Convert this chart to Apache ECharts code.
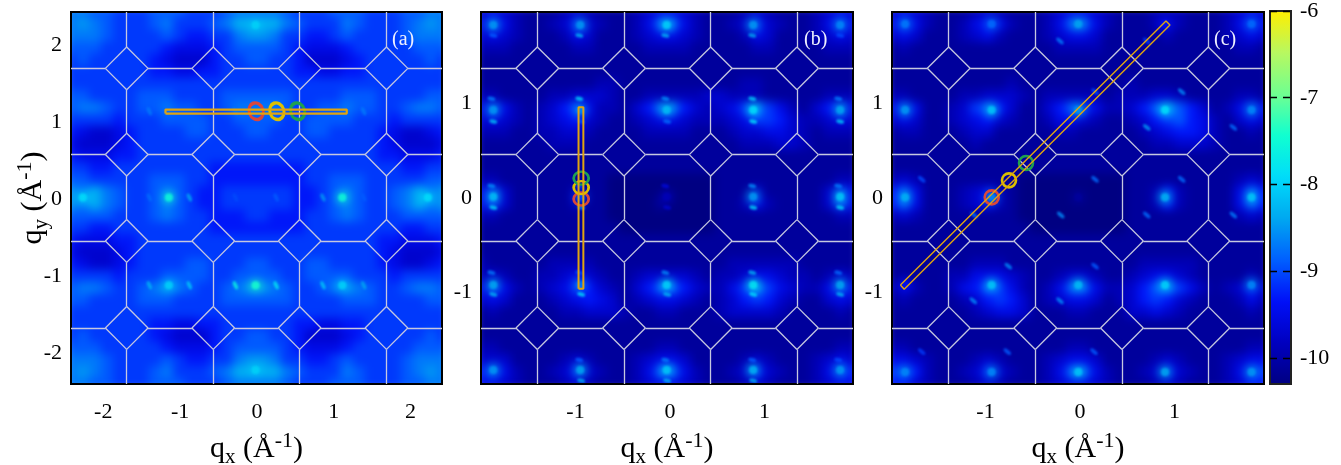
<!DOCTYPE html>
<html>
<head>
<meta charset="utf-8">
<style>
html,body{margin:0;padding:0;background:#fff}
#c{width:1341px;height:465px}
canvas[data-zr-dom-id="zr_0"]{filter:blur(5px);clip-path:path("M71 12H442V384H71Z M481 12H853V384H481Z M892 12H1264V384H892Z")}
canvas[data-zr-dom-id="zr_1"]{filter:blur(1.2px);clip-path:path("M71 12H442V384H71Z M481 12H853V384H481Z M892 12H1264V384H892Z")}
</style>
<script src="https://cdn.jsdelivr.net/npm/echarts@6/dist/echarts.min.js"></script>
</head>
<body>
<div id="c"></div>
<script>
// intensity rows (top to bottom), one hex digit per cell: log10 I = -10.3 + 0.2 * digit
var heatA = [
"88776667776667888876667776667788","89876667866678aaaa87666876667898","88876666765566899866556766667888","77766666544456777765444566666777",
"67666665433356677665333456666676","66666665544556666665544556666666","66666666666666666666666666666666","77666677766667777776666777666677",
"78876677877667888876677877667887","66665666777766777766777766656666","54334566667766677666776666543345","43334566666666666666666666543334",
"54445566666666666666666666554445","66556666666655555555666666665566","77666667776655555555667776666677","98a87667876556666665567876678a89",
"98a87667876556666665567876678a89","77776667876655566555667876667777","66556666666655555555666666665566","54445566666666666666666666554445",
"43334566666666666666666666543334","54334566667766677666776666543345","66665666777766777766777766656666","78876678987667899876678987667887",
"77666677766667777776666777666677","66666666666666666666666666666666","66666665544556666665544556666666","67666665433356677665333456666676",
"77766666544456777765444566666777","88876666765566899866556766667888","89876667866678aaaa87666876667898","88776667776667888876667776667788"];
var heatB = [
"34321112321112344321112321112343","46421123532112477421123532112464","34321112431112344321112431112343","22211111221111222211111221111222",
"11111111111111111111111111111111","11111111111111111111111111111111","11111111112211111111112211111111","22111122333211222223322211111222",
"46421235742213588532346864213574","34321234532112344322234665322343","22211223321111222211123344321222","11111122211111111111112223321111",
"11111111111111111111111111111111","11111111111111111111111111111111","22111111111000000000111111111122","46311111211000000000111311111364",
"46311111211000010000112421111374","22111111111000000000111111111122","11111111111100000000111111111111","11111111111111111111111111111111",
"11111111111111111111111111111111","21111122221111111111122222211111","23211223432112333321223443221232","46421234653213577532246964322464",
"34311123454312344321235653211343","12111112233321122111233332111121","11111111111111111111111111111111","11111111111111111111111111111111",
"22111111111111122111111111111122","33311112321112344311112321112343","56421123532112477421123532112465","44321112321112344321112321112344"];
var heatC = [
"34321112321112344321112221112343","46421124542112477421112321112464","34311123421112344311111211112343","12111111111111222211111111111221",
"11111111111111111111111111111111","11111111111111111111111111111111","11111111112111111111211111111111","22111122333212222212223321111221",
"46411236753113576422357975312464","34311234532112443211235675421343","12211123311111221111123455421121","11111112111111111111112233321111",
"11111111111111111111111111111111","11111111111111111111111111111111","23211111111000000000111111111232","57411123421000000000112521111475",
"57411123421000000000112521111475","23211111111000000000111111111232","11111111111100000000111111111111","11111111111111111111111111111111",
"11111111111111111111111111111111","11111112221111111111122222111111","11111224443211233211234432111121","23211245764212477422357864212353",
"12111123565312344312356532111242","11111112344311122111334321111121","11111111111111111111111111111111","11111111111111111111111111111111",
"22111111111111122111111111111122","44321112321112344311112321112344","67521123532112477421123532112476","55321112321112344321112321112355"];

var cellCount = 32;

// bright cores: [qx, qy, log10 I]
var coresA = [[-1.146,0.02,-7.5],[1.112,0.02,-7.5],[-0.017,-1.12,-7.4],[-1.146,-1.12,-8.0],[1.112,-1.12,-8.0],[-2.266,0.02,-7.9],[2.227,0.02,-7.9],[-0.017,2.26,-8.0],[-0.017,-2.22,-8.0]];
var coresB = [[-1.87,1.83,-8.5],[-0.95,1.83,-8.5],[-0.035,1.83,-8.0],[0.88,1.83,-8.5],[1.80,1.83,-8.6],
[-1.87,0.93,-8.5],[-0.95,0.93,-8.6],[-0.035,0.93,-8.2],[0.88,0.93,-7.9],[1.80,0.93,-8.4],
[-1.87,0.014,-8.2],[-0.95,0.014,-9],[-0.035,0.014,-9.9],[0.88,0.014,-8.5],[1.80,0.014,-8.1],
[-1.87,-0.92,-8.4],[-0.95,-0.92,-8.7],[-0.035,-0.92,-8.0],[0.88,-0.92,-7.8],[1.80,-0.92,-8.4],
[-1.87,-1.82,-8.5],[-0.95,-1.82,-8.4],[-0.035,-1.82,-8.1],[0.88,-1.82,-8.3],[1.80,-1.82,-8.5]];
var coresC = [[-1.85,1.84,-8.7],[-0.935,1.84,-8.8],[-0.018,1.84,-8.4],[0.90,1.84,-9.4],[1.815,1.84,-8.8],
[-1.85,0.93,-8.5],[-0.935,0.93,-8.1],[-0.018,0.93,-8.5],[0.90,0.93,-7.9],[1.815,0.93,-8.6],
[-1.85,0.007,-8.3],[-0.935,0.007,-8.6],[-0.018,0.007,-10.1],[0.90,0.007,-8.3],[1.815,0.007,-8.1],
[-1.85,-0.92,-9.4],[-0.935,-0.92,-8.1],[-0.018,-0.92,-8.2],[0.90,-0.92,-8.0],[1.815,-0.92,-8.6],
[-1.85,-1.84,-8.6],[-0.935,-1.84,-8.6],[-0.018,-1.84,-8.1],[0.90,-1.84,-8.4],[1.815,-1.84,-8.5]];

// small satellite spots: [qx, qy, log10 I]
var spotsA = [[-1.40,1.14,-8.7],[1.39,1.14,-8.7],[-0.28,1.14,-8.7],[-1.40,0.02,-8.8],[-0.88,0.02,-8.4],[-0.28,0.02,-9],[0.25,0.02,-8.9],[0.86,0.02,-8.5],[1.39,0.02,-8.9],
[-1.40,-1.12,-8.3],[-0.88,-1.12,-8.1],[-0.28,-1.12,-7.6],[0.25,-1.12,-7.8],[0.86,-1.12,-8.1],[1.39,-1.12,-8.4]];
var spotsB = [[-1.87,1.72,-8.9],[-0.96,1.72,-8.3],[-0.05,1.72,-8.3],[0.87,1.72,-8.4],[1.80,1.72,-9],
[-1.89,1.05,-8.7],[-0.96,1.05,-8.0],[-0.05,1.05,-8.6],[0.87,1.05,-8.1],[1.78,1.05,-8.7],
[-1.87,0.81,-8.2],[-0.94,0.81,-9],[-0.03,0.81,-8.8],[0.88,0.81,-7.9],[1.80,0.81,-8.1],
[-1.89,0.127,-8.6],[-0.96,0.127,-9],[-0.05,0.127,-9.6],[0.87,0.127,-8.6],[1.78,0.127,-8.7],
[-1.87,-0.10,-8.0],[-0.94,-0.10,-8.6],[-0.03,-0.10,-9.7],[0.88,-0.10,-8.0],[1.80,-0.10,-8.0],
[-1.89,-0.79,-8.7],[-0.96,-0.79,-9],[-0.05,-0.79,-8.6],[0.87,-0.79,-8.3],[1.78,-0.79,-8.8],
[-1.87,-1.02,-8.3],[-0.94,-1.02,-7.9],[-0.03,-1.02,-8.3],[0.88,-1.02,-7.9],[1.80,-1.02,-8.3],
[-0.96,-1.714,-8.9],[-0.05,-1.714,-8.7],[0.87,-1.714,-8.9],[1.78,-1.714,-9],[-0.94,-1.933,-8.3],[-0.03,-1.933,-8.3],[0.88,-1.933,-8.3]];
var spotsC = [[-0.212,1.661,-8.7],[0.706,1.661,-9.1],[0.159,1.125,-9],[1.076,1.125,-8.6],[0.706,0.748,-8.5],[1.622,0.748,-8.8],
[-1.675,0.198,-9],[0.159,0.198,-8.8],[1.076,0.198,-8.8],[-1.122,-0.18,-8.8],[-0.204,-0.18,-8.6],[0.706,-0.18,-8.8],[1.622,-0.18,-8.7],
[-0.759,-0.72,-8.6],[0.159,-0.72,-8.9],[-1.129,-1.087,-8.6],[-0.212,-1.087,-8.6],[-1.675,-1.626,-9.1],[-0.769,-1.626,-8.9],[0.148,-1.626,-8.9]];

// Brillouin-zone corner lattice
var bzXA = [-1.695,-0.568,0.557,1.687], bzYA = [1.697,0.577,-0.545,-1.675], bzDA = 0.278;
var bzXB = [-1.404,-0.487,0.43,1.343],  bzYB = [1.372,0.459,-0.455,-1.376], bzDB = 0.2265;
var bzXC = [-1.389,-0.473,0.444,1.358], bzYC = [1.372,0.459,-0.455,-1.376], bzDC = 0.2265;

// scan windows
var rectA = [[-1.19,1.11],[1.17,1.11],[1.17,1.162],[-1.19,1.162],[-1.19,1.11]];
var rectB = [[-0.968,-0.96],[-0.917,-0.96],[-0.917,0.96],[-0.968,0.96],[-0.968,-0.96]];
var rectC = [[-1.90,-0.92],[-1.86,-0.966],[0.952,1.83],[0.91,1.873],[-1.90,-0.92]];

// rings: red, yellow, green
var ringsA = [[-0.01,1.14],[0.26,1.14],[0.53,1.14]];
var ringsB = [[-0.94,-0.01],[-0.94,0.11],[-0.94,0.21]];
var ringsC = [[-0.934,0.007],[-0.751,0.187],[-0.571,0.37]];
var ringColors = ['#d8483c','#dcc000','#1fa050'];

var ticksA = [-2,-1,0,1,2], ticksBC = [-1,0,1], barTicks = [-10,-9,-8,-7,-6];
var panelTags = ['(a)','(b)','(c)'];
var palette = ['#000082','#0000c0','#0010f8','#0060ff','#00a8f0','#00dcfa','#10ffd0','#70ff90','#b8f860','#ffee00'];

var serif = '"Liberation Serif","Times New Roman",serif';
var panels = [
 {heat:heatA,cores:coresA,spots:spotsA,bzX:bzXA,bzY:bzYA,d:bzDA,rect:rectA,rings:ringsA,ticks:ticksA,left:71,w:371,glow:11,
  xr:[-2.42,2.41],yr:[-2.403,2.429],spotSize:[4,9],spotRot:25,ringSize:[14,17],ringRot:20,rw:2.2,rb:3.2,tag:405},
 {heat:heatB,cores:coresB,spots:spotsB,bzX:bzXB,bzY:bzYB,d:bzDB,rect:rectB,rings:ringsB,ticks:ticksBC,left:481,w:372,glow:13,
  xr:[-2.0,1.936],yr:[-1.968,1.968],spotSize:[8,4],spotRot:-15,ringSize:[15,13],ringRot:0,rw:2,rb:2.6,tag:817},
 {heat:heatC,cores:coresC,spots:spotsC,bzX:bzXC,bzY:bzYC,d:bzDC,rect:rectC,rings:ringsC,ticks:ticksBC,left:892,w:372,glow:13,
  xr:[-1.989,1.947],yr:[-1.968,1.968],spotSize:[9,4],spotRot:-40,ringSize:[14,14],ringRot:0,rw:1.4,rb:2.6,tag:1227}
];

function segs(p){
  var out=[],i,j,xs=p.bzX,ys=p.bzY,d=p.d;
  function add(a,b,c,e){out.push({coords:[[a,b],[c,e]]});}
  ys.forEach(function(y){
    add(p.xr[0],y,xs[0]-d,y);
    for(i=0;i<xs.length-1;i++) add(xs[i]+d,y,xs[i+1]-d,y);
    add(xs[xs.length-1]+d,y,p.xr[1],y);
  });
  xs.forEach(function(x){
    add(x,p.yr[1],x,ys[0]+d);
    for(j=0;j<ys.length-1;j++) add(x,ys[j]-d,x,ys[j+1]+d);
    add(x,ys[ys.length-1]-d,x,p.yr[0]);
  });
  xs.forEach(function(x){ys.forEach(function(y){
    add(x-d,y,x,y+d);add(x,y+d,x+d,y);add(x+d,y,x,y-d);add(x,y-d,x-d,y);
  });});
  return out;
}
function title(main,sub){
  return '{q|'+main+'}{s|'+sub+'}{t| (Å}{u|-1}{t|)}';
}
var titleRich = {
  q:{fontSize:30,fontFamily:serif,color:'#000',lineHeight:38},
  t:{fontSize:30,fontFamily:serif,color:'#000',lineHeight:38},
  s:{fontSize:21,fontFamily:serif,color:'#000',verticalAlign:'bottom',lineHeight:26},
  u:{fontSize:22,fontFamily:serif,color:'#000',verticalAlign:'top',lineHeight:26}
};
var cats=[];for(var k=0;k<cellCount;k++)cats.push(k);

var grids=[],xAxes=[],yAxes=[],series=[],mapped=[],graphics=[];
panels.forEach(function(p){
  grids.push({left:p.left-6,top:6,width:384,height:384,show:false,zlevel:0,outerBoundsMode:'none'});
  xAxes.push({type:'category',data:cats,show:false,gridIndex:grids.length-1,zlevel:0});
  yAxes.push({type:'category',data:cats,inverse:true,show:false,gridIndex:grids.length-1,zlevel:0});
});
panels.forEach(function(p,n){
  var g=grids.length;
  grids.push({left:p.left,top:12,width:p.w,height:372,show:true,backgroundColor:'transparent',borderColor:'#000',borderWidth:2,zlevel:2,outerBoundsMode:'none'});
  var lab={fontFamily:serif,fontSize:22,color:'#000',customValues:p.ticks};
  xAxes.push({type:'value',gridIndex:g,min:p.xr[0],max:p.xr[1],zlevel:2,splitLine:{show:false},axisTick:{show:false},
    axisLine:{show:true,onZero:false,lineStyle:{color:'#000',width:2}},axisLabel:Object.assign({margin:17},lab),
    name:title('q','x'),nameLocation:'middle',nameGap:46,nameMoveOverlap:false,nameTextStyle:{rich:titleRich}});
  var ya={type:'value',gridIndex:g,min:p.yr[0],max:p.yr[1],zlevel:2,splitLine:{show:false},axisTick:{show:false},
    axisLine:{show:true,onZero:false,lineStyle:{color:'#000',width:2}},axisLabel:Object.assign({margin:9},lab)};
  if(n===0){ya.name=title('q','y');ya.nameLocation='middle';ya.nameGap=19;ya.nameMoveOverlap=false;ya.nameTextStyle={rich:titleRich};}
  yAxes.push(ya);

  var hd=[];
  p.heat.forEach(function(row,r){for(var c=0;c<row.length;c++)hd.push([c,r,-10.3+0.2*parseInt(row[c],16)]);});
  mapped.push(series.length);
  series.push({type:'heatmap',xAxisIndex:n,yAxisIndex:n,data:hd,zlevel:0,silent:true,progressive:0,animation:false,itemStyle:{borderWidth:0}});
  mapped.push(series.length);
  series.push({type:'scatter',xAxisIndex:g,yAxisIndex:g,data:p.cores,zlevel:0,z:5,symbolSize:p.glow,silent:true,animation:false,itemStyle:{opacity:1}});
  mapped.push(series.length);
  series.push({type:'scatter',xAxisIndex:g,yAxisIndex:g,data:p.cores,zlevel:1,symbolSize:8,silent:true,animation:false});
  mapped.push(series.length);
  series.push({type:'scatter',xAxisIndex:g,yAxisIndex:g,data:p.spots,zlevel:1,symbolSize:p.spotSize,symbolRotate:p.spotRot,silent:true,animation:false});
  series.push({type:'lines',coordinateSystem:'cartesian2d',xAxisIndex:g,yAxisIndex:g,data:segs(p),zlevel:2,silent:true,animation:false,
    lineStyle:{color:'#c6c8e0',width:1.3,opacity:1,curveness:0}});
  series.push({type:'line',xAxisIndex:g,yAxisIndex:g,data:p.rect,zlevel:2,symbol:'none',silent:true,animation:false,
    lineStyle:{color:'#e0a410',width:p.rw}});
  p.rings.forEach(function(r,i){
    series.push({type:'scatter',xAxisIndex:g,yAxisIndex:g,data:[r],zlevel:2,symbolSize:p.ringSize,symbolRotate:p.ringRot,silent:true,animation:false,
      itemStyle:{color:'rgba(0,0,0,0)',borderColor:ringColors[i],borderWidth:p.rb,opacity:1}});
  });
  graphics.push({type:'text',left:p.tag-13,top:30,zlevel:2,silent:true,style:{text:panelTags[n],fill:'#eef0ff',font:'20px '+serif}});
});
// colour bar frame and ticks
var gb=grids.length;
grids.push({left:1270,top:11,width:21,height:373,show:true,backgroundColor:'transparent',borderColor:'#222',borderWidth:2,zlevel:3,outerBoundsMode:'none'});
xAxes.push({type:'value',gridIndex:gb,min:0,max:1,show:false,zlevel:3});
yAxes.push({type:'value',gridIndex:gb,position:'right',min:-10.3,max:-6,zlevel:3,
  axisLine:{show:false},
  axisTick:{show:false,customValues:barTicks},
  splitLine:{show:true,lineStyle:{color:'#000',width:1.4,type:[7,6]}},
  axisLabel:{customValues:barTicks,fontFamily:serif,fontSize:22,color:'#000',margin:9}});

var chart=echarts.init(document.getElementById('c'),null,{renderer:'canvas',width:1341,height:465,devicePixelRatio:1});
chart.setOption({
  animation:false,
  backgroundColor:'transparent',
  grid:grids,xAxis:xAxes,yAxis:yAxes,series:series,graphic:graphics,
  visualMap:{type:'continuous',min:-10.3,max:-6,dimension:2,seriesIndex:mapped,calculable:false,realtime:false,hoverLink:false,
    left:1270,top:11,itemWidth:21,itemHeight:373,padding:0,text:null,zlevel:2,inRange:{color:palette},textStyle:{color:'rgba(0,0,0,0)',fontSize:1}}
});
</script>
</body>
</html>
